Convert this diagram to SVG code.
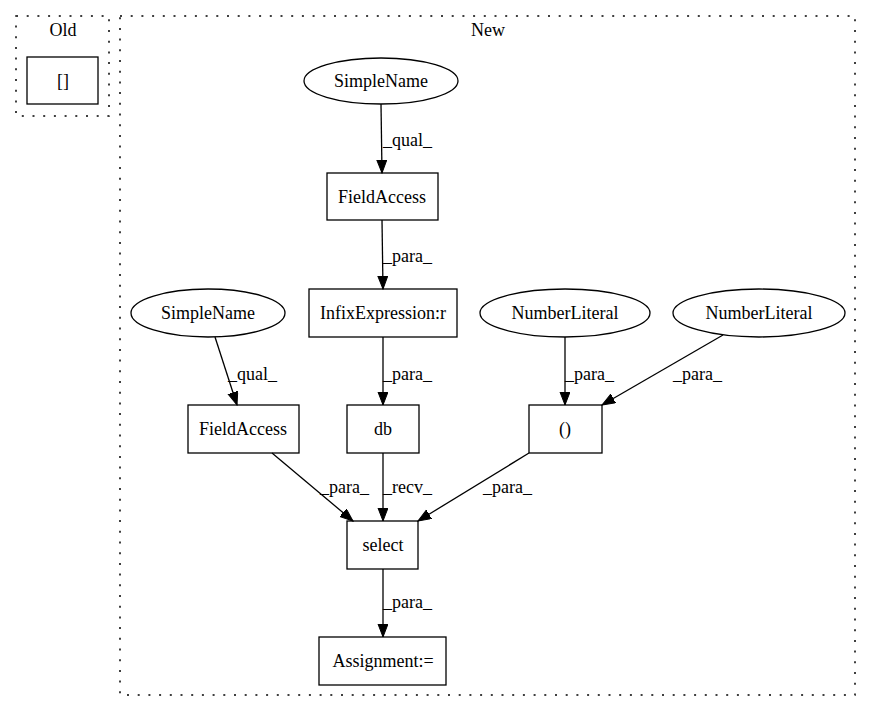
<svg xmlns="http://www.w3.org/2000/svg" width="871" height="712" viewBox="0 0 871 712">
<style>
text{font-family:"Liberation Serif","Times New Roman",serif;font-size:18px;fill:#000}
.n{text-anchor:middle}
.shape{fill:none;stroke:#000;stroke-width:1.3}
.cl{fill:none;stroke:#000;stroke-width:1.5;stroke-dasharray:2,8.7}
.e{fill:none;stroke:#000;stroke-width:1.3;marker-end:url(#arr)}
</style>
<defs>
<marker id="arr" markerUnits="userSpaceOnUse" markerWidth="14" markerHeight="11" refX="13" refY="5" orient="auto">
<path d="M0,0 L13,5 L0,10 z" fill="#000" stroke="#000"/>
</marker>
</defs>
<rect width="871" height="712" fill="#fff"/>
<g id="cluster_old">
<rect class="cl" x="16" y="16" width="93" height="100"/>
<text class="n" x="63" y="36">Old</text>
</g>
<g id="cluster_new">
<rect class="cl" x="120" y="16" width="735" height="679"/>
<text class="n" x="488" y="36">New</text>
</g>
<g id="old_brackets">
<rect class="shape" x="27" y="57" width="71" height="47"/>
<text class="n" x="63" y="87">[]</text>
</g>
<g id="simplename_top">
<ellipse class="shape" cx="381" cy="81" rx="77" ry="23"/>
<text class="n" x="381" y="87">SimpleName</text>
</g>
<g id="fieldaccess_top">
<rect class="shape" x="327" y="173" width="111" height="47"/>
<text class="n" x="382" y="203">FieldAccess</text>
</g>
<g id="infix">
<rect class="shape" x="309" y="289" width="148" height="48"/>
<text class="n" x="383" y="319">InfixExpression:r</text>
</g>
<g id="simplename_left">
<ellipse class="shape" cx="208" cy="313" rx="77" ry="24"/>
<text class="n" x="208" y="319">SimpleName</text>
</g>
<g id="numberliteral1">
<ellipse class="shape" cx="565" cy="313" rx="85" ry="24"/>
<text class="n" x="565" y="319">NumberLiteral</text>
</g>
<g id="numberliteral2">
<ellipse class="shape" cx="759" cy="313" rx="86" ry="24"/>
<text class="n" x="759" y="319">NumberLiteral</text>
</g>
<g id="fieldaccess_left">
<rect class="shape" x="188" y="405" width="111" height="48"/>
<text class="n" x="243" y="435">FieldAccess</text>
</g>
<g id="db">
<rect class="shape" x="347" y="405" width="72" height="48"/>
<text class="n" x="383" y="435">db</text>
</g>
<g id="parens">
<rect class="shape" x="529" y="405" width="73" height="48"/>
<text class="n" x="565" y="435">()</text>
</g>
<g id="select">
<rect class="shape" x="347" y="521" width="71" height="48"/>
<text class="n" x="383" y="551">select</text>
</g>
<g id="assignment">
<rect class="shape" x="319" y="637" width="127" height="48"/>
<text class="n" x="383" y="667">Assignment:=</text>
</g>
<g id="connectors">
<line class="e" x1="381" y1="104" x2="382" y2="173"/>
<text x="383" y="146">_qual_</text>
<line class="e" x1="382" y1="220" x2="383" y2="289"/>
<text x="383" y="262">_para_</text>
<line class="e" x1="383" y1="337" x2="383" y2="405"/>
<text x="383" y="380">_para_</text>
<line class="e" x1="215" y1="337" x2="237" y2="405"/>
<text x="228" y="380">_qual_</text>
<line class="e" x1="565" y1="337" x2="565" y2="405"/>
<text x="565" y="380">_para_</text>
<line class="e" x1="723" y1="335" x2="602" y2="405"/>
<text x="673" y="380">_para_</text>
<line class="e" x1="272" y1="453" x2="353" y2="521"/>
<text x="320" y="493">_para_</text>
<line class="e" x1="383" y1="453" x2="383" y2="521"/>
<text x="383" y="493">_recv_</text>
<line class="e" x1="529" y1="453" x2="418" y2="521"/>
<text x="483" y="493">_para_</text>
<line class="e" x1="383" y1="569" x2="383" y2="637"/>
<text x="383" y="608">_para_</text>
</g>
</svg>
